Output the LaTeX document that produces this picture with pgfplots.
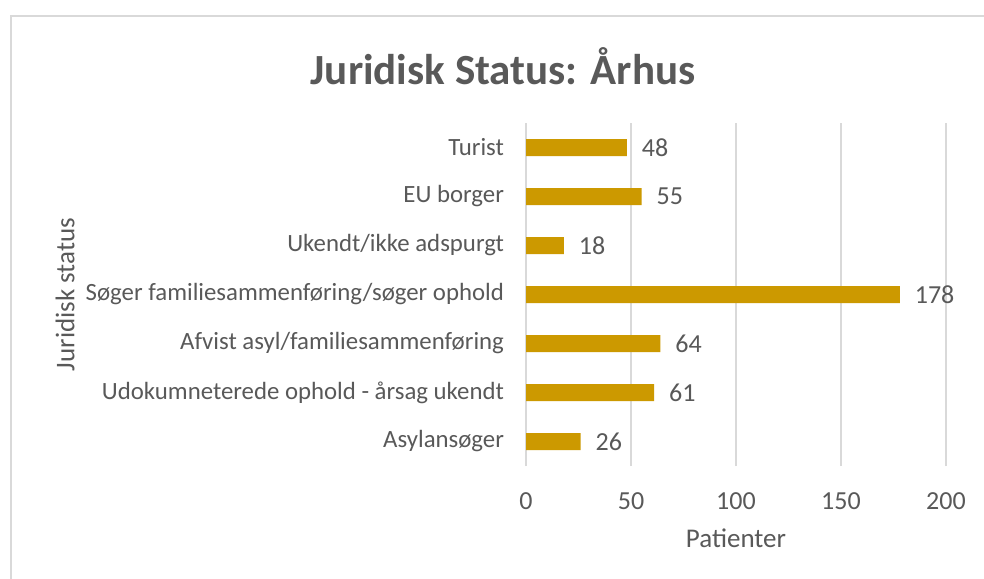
\documentclass[border=0pt]{standalone}
\usepackage{fontspec}
\setmainfont{Carlito}
\usepackage{pgfplots}
\pgfplotsset{compat=1.18}
\definecolor{bargold}{RGB}{204,153,0}
\definecolor{txtgray}{RGB}{89,89,89}
\definecolor{gridgray}{RGB}{217,217,217}
\begin{document}
\begin{tikzpicture}[x=1pt,y=1pt]
\useasboundingbox (0,0) rectangle (492,289);
\fill[white] (0,0) rectangle (492,289);
\draw[gridgray, line width=1.2pt] (5.5,-2) -- (5.5,281) -- (494,281);
\begin{axis}[
  at={(263pt,56pt)}, anchor=south west,
  scale only axis, width=210pt, height=171.5pt,
  xbar, bar width=8.5pt,
  xmin=0, xmax=200, ymin=-0.5, ymax=6.5,
  xtick={0,50,100,150,200},
  ytick={0,1,2,3,4,5,6},
  yticklabels={Asylansøger,Udokumneterede ophold - årsag ukendt,Afvist asyl/familiesammenføring,Søger familiesammenføring/søger ophold,Ukendt/ikke adspurgt,EU borger,Turist},
  axis line style={draw=none},
  major tick length=0pt,
  xmajorgrids, grid style={gridgray, line width=0.8pt},
  /pgf/number format/assume math mode=true,
  tick label style={font=\fontsize{13}{15}\selectfont, text=txtgray},
  yticklabel style={font=\fontsize{12.4}{14}\selectfont, xshift=-7.5pt},
  xticklabel style={yshift=-10pt},
  xlabel={Patienter},
  xlabel style={font=\fontsize{13.5}{16}\selectfont, text=txtgray, yshift=-2.5pt},
  nodes near coords,
  nodes near coords style={font=\fontsize{13}{15}\selectfont, text=txtgray, anchor=west, xshift=4pt},
]
\addplot[fill=bargold, draw=none] coordinates {
  (26,0) (61,1) (64,2) (178,3) (18,4) (55,5) (48,6)
};
\end{axis}
\node[text=txtgray, font=\fontsize{21.5}{25}\selectfont\bfseries] at (251.5,256) {Juridisk Status: Århus};
\node[text=txtgray, rotate=90, font=\fontsize{13.5}{16}\selectfont] at (32.5,141.75) {Juridisk status};
\end{tikzpicture}
\end{document}
